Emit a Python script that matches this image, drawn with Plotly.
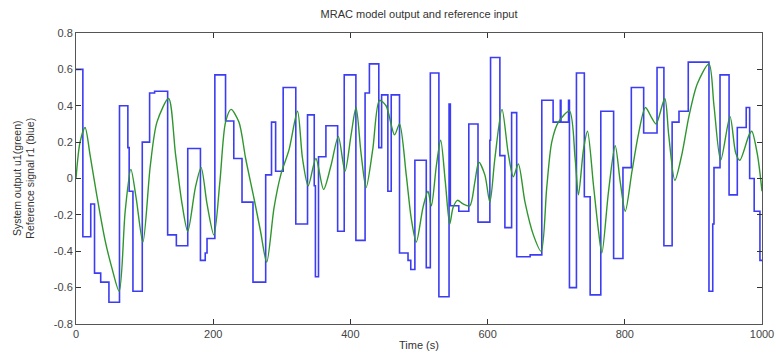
import plotly.graph_objects as go

# Reference signal r1 (blue): step start times and levels
ref_t = [0, 10, 21.5, 27, 36, 48, 63.4, 75.6, 77.5, 83, 96.6, 107.3, 114.6, 133.6, 146.3,
         162.9, 181.4, 188.4, 191, 202.4, 218, 230, 242, 258, 276.5, 285, 291, 302, 320.4,
         337.5, 347.3, 349, 353.5, 364.3, 381.4, 391, 408, 421.4, 427.7, 441.4, 445.5,
         454.6, 459.5, 471.6, 484, 488, 494, 510.6, 516.5, 529, 543.8, 545.7, 558, 572.6,
         586, 603.3, 604.3, 617.9, 625.2, 635, 642.4, 662, 679, 695.5, 706, 707, 718,
         719.3, 729.5, 741, 749.5, 765, 783.7, 797.3, 809.5, 827.5, 847, 857, 869, 879,
         892.5, 922.7, 928.2, 930, 938.8, 952, 964, 977, 982, 988.6, 997, 1000]
ref_level = [0.6, -0.32, -0.14, -0.52, -0.57, -0.68, 0.4, 0.17, -0.07, -0.62, 0.2, 0.47, 0.48,
             -0.31, -0.37, 0.165, -0.45, -0.41, -0.33, 0.57, 0.316, 0.11, -0.13, -0.57, 0.02,
             0.31, 0.04, 0.5, -0.25, 0.35, -0.04, -0.54, 0.12, 0.29, -0.29, 0.57, -0.34, 0.47,
             0.63, 0.17, 0.46, -0.07, 0.46, -0.41, -0.45, -0.5, 0.1, -0.49, 0.58, -0.65, 0.41,
             -0.15, -0.18, 0.3, -0.24, 0.21, 0.665, 0.126, -0.27, 0.362, -0.43, -0.42, 0.43,
             0.31, 0.43, 0.31, 0.43, -0.6, 0.58, -0.1, -0.64, 0.37, -0.44, 0.06, 0.5, 0.25,
             0.61, -0.37, 0.31, 0.37, 0.64, -0.62, -0.25, 0.06, 0.57, -0.09, 0.28, 0.39, 0.0,
             -0.18, -0.45, -0.45]

# System output u1 (green)
out_t = [0, 5.9, 13.2, 20.5, 30.2, 42.4, 52.2, 62.9, 71.7, 80, 87.8, 97.5, 108.3, 118, 135,
         144.9, 154.6, 162.9, 174, 182.4, 191, 201, 209.7, 218, 226, 237.5, 247.3, 259.5,
         269, 278, 288.7, 298.5, 310.7, 322.9, 330.2, 338.5, 349.7, 360.9, 371.6, 382.4,
         392.1, 401, 408.2, 415.5, 422.9, 432.6, 442.4, 452, 464.3, 471.6, 481.4, 488.7,
         496, 505.8, 513, 518, 525.3, 531.6, 538.4, 544.8, 549.7, 556, 564.3, 574, 581.4,
         587.2, 596, 603.3, 610.6, 621, 630, 637.5, 644.8, 654.5, 666.7, 678, 686.2, 693.5,
         703.2, 719.3, 727.6, 732.4, 739.8, 745.6, 754.4, 761.7, 766.6, 776.3, 786, 793.4,
         800.7, 810.5, 820.2, 830, 839.7, 845.6, 858.3, 864, 873, 883.6, 893.4, 905.6,
         922.7, 930, 939.8, 953.4, 961.7, 967.6, 981.2, 985.1, 993.4, 1000]
out_value = [0, 0.2, 0.28, 0.13, -0.09, -0.34, -0.49, -0.62, -0.18, 0.05, -0.11, -0.35, 0.07,
             0.31, 0.44, 0.14, -0.14, -0.29, -0.05, 0.06, -0.14, -0.31, -0.02, 0.31, 0.38,
             0.31, 0.11, -0.11, -0.29, -0.46, -0.16, 0.02, 0.16, 0.37, 0.11, -0.04, 0.11,
             -0.06, 0.07, 0.23, 0.04, 0.24, 0.39, 0.14, -0.05, 0.16, 0.43, 0.40, 0.24, 0.30,
             0.02, -0.22, -0.35, -0.16, -0.07, -0.15, 0.07, 0.21, -0.02, -0.25, -0.16, -0.12,
             -0.14, -0.15, -0.02, 0.09, 0.02, -0.13, 0.11, 0.38, 0.14, 0.01, 0.08, -0.13,
             -0.31, -0.40, -0.05, 0.2, 0.31, 0.37, 0.11, -0.09, 0.16, 0.26, -0.04, -0.29,
             -0.41, -0.07, 0.18, -0.02, -0.18, 0.04, 0.25, 0.39, 0.33, 0.30, 0.44, 0.24,
             -0.01, 0.14, 0.34, 0.52, 0.63, 0.40, 0.10, 0.34, 0.14, 0.10, 0.24, 0.26, 0.13,
             -0.07]

x_ticks = [0, 200, 400, 600, 800, 1000]
y_ticks = [-0.8, -0.6, -0.4, -0.2, 0, 0.2, 0.4, 0.6, 0.8]
y_tick_text = ["-0.8", "-0.6", "-0.4", "-0.2", "0", "0.2", "0.4", "0.6", "0.8"]

fig = go.Figure()
fig.add_trace(go.Scatter(x=ref_t, y=ref_level, mode="lines", line_shape="hv",
                         line=dict(color="#3c3cf2", width=1.6), showlegend=False))
fig.add_trace(go.Scatter(x=out_t, y=out_value, mode="lines", line_shape="spline",
                         line=dict(color="#2f962f", width=1.4, smoothing=0.8), showlegend=False))

axis_common = dict(showline=True, linecolor="#555", linewidth=1, mirror="ticks",
                   ticks="inside", ticklen=5, tickcolor="#333", showgrid=False, zeroline=False,
                   automargin=False,
                   tickfont=dict(family="Liberation Sans, Arial", size=11, color="#444"))

fig.update_layout(
    width=776, height=354,
    margin=dict(l=76, r=14, t=33, b=30),
    paper_bgcolor="white", plot_bgcolor="white",
    title=dict(text="MRAC model output and reference input", x=0.54, xanchor="center",
               y=0.96, yanchor="middle",
               font=dict(family="Liberation Sans, Arial", size=11, color="#333")),
    xaxis=dict(range=[0, 1000], tickvals=x_ticks, **axis_common),
    yaxis=dict(range=[-0.8, 0.8], tickvals=y_ticks, ticktext=y_tick_text, **axis_common),
)
fig.update_xaxes(title=dict(text="Time (s)", standoff=2,
                            font=dict(family="Liberation Sans, Arial", size=11, color="#333")))
fig.add_annotation(text="System output u1(green)<br>Reference signal r1 (blue)",
                   xref="paper", yref="paper", x=-0.077, y=0.5, xanchor="center",
                   yanchor="middle", textangle=-90, showarrow=False,
                   font=dict(family="Liberation Sans, Arial", size=10.5, color="#333"))

fig.write_html("out.html", config={"displayModeBar": False},
               post_script="document.body.style.margin='0';document.body.style.overflow='hidden';")
